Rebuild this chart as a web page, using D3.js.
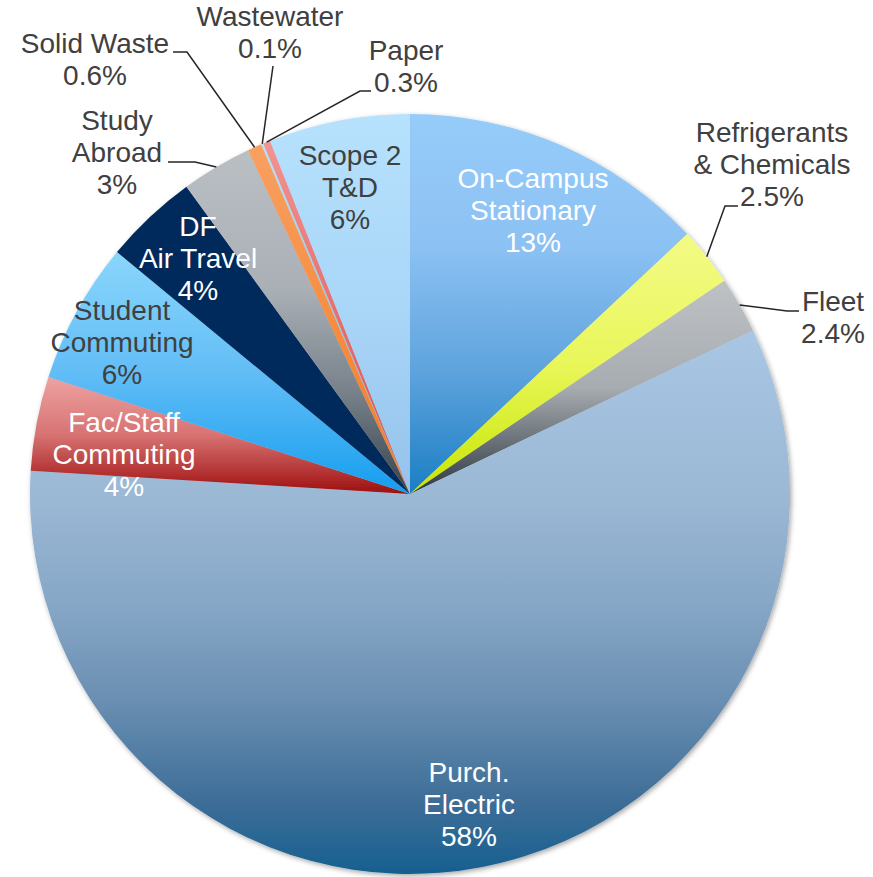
<!DOCTYPE html>
<html>
<head>
<meta charset="utf-8">
<script src="https://cdn.jsdelivr.net/npm/d3@7"></script>
<style>
  html, body { margin: 0; padding: 0; background: #ffffff; }
  svg { display: block; }
  text { font-family: "Liberation Sans", Arial, sans-serif; }
</style>
</head>
<body>
<svg id="chart" width="873" height="877"></svg>
<script>
// Emission sources, clockwise from 12 o'clock
const categories = [
  "On-Campus Stationary", "Refrigerants & Chemicals", "Fleet", "Purch. Electric",
  "Fac/Staff Commuting", "Student Commuting", "DF Air Travel", "Study Abroad",
  "Solid Waste", "Wastewater", "Paper", "Scope 2 T&D"
];
// Share of total emissions (%)
const shares = [13, 2.5, 2.4, 58, 4, 6, 4, 3, 0.6, 0.1, 0.3, 6];
// Label lines drawn for each source
const labelLines = [
  ["On-Campus", "Stationary"], ["Refrigerants", "& Chemicals"], ["Fleet"], ["Purch.", "Electric"],
  ["Fac/Staff", "Commuting"], ["Student", "Commuting"], ["DF", "Air Travel"], ["Study", "Abroad"],
  ["Solid Waste"], ["Wastewater"], ["Paper"], ["Scope 2", "T&D"]
];

// Fill gradients (top -> bottom of each slice)
const gradients = [
  [[0, "#96ccfa"], [0.35, "#8cc1f3"], [0.68, "#5ea3dd"], [1, "#1a7ec4"]],
  [[0, "#f3fb86"], [0.5, "#e9f65a"], [1, "#c6e600"]],
  [[0, "#bec2c5"], [0.5, "#a7acb1"], [1, "#2e3740"]],
  [[0, "#a9c7e4"], [0.32, "#9ab7d4"], [0.5, "#87a7c7"], [0.68, "#6a8fb2"], [0.865, "#3e6e98"], [1, "#166090"]],
  [[0, "#eea2a2"], [0.5, "#d77272"], [1, "#9e0e0e"]],
  [[0, "#8ad6fc"], [0.5, "#62bdf6"], [1, "#159eef"]],
  [[0, "#03295b"], [1, "#03295b"]],
  [[0, "#babfc4"], [0.4, "#aab0b6"], [0.7, "#78828b"], [1, "#36424d"]],
  [[0, "#f9a062"], [1, "#f47a22"]],
  [[0, "#b7e1f6"], [1, "#6ab8e0"]],
  [[0, "#f29393"], [1, "#dc4a4a"]],
  [[0, "#b6e2fd"], [0.5, "#aad6f8"], [1, "#94c2eb"]]
];
const labelColor = ["#ffffff", "#404040", "#404040", "#ffffff", "#ffffff", "#404040",
                    "#ffffff", "#404040", "#404040", "#404040", "#404040", "#404040"];

// Label anchor: centre x and baseline of first line
const labelPos = [
  [533, 188], [772, 142], [833, 311], [469, 782], [124, 432], [122, 320],
  [198, 236], [117, 130], [95, 53], [270, 26], [406, 60], [350, 165]
];
// Leader line bend and end points (null = no leader)
const leaders = [
  null, [[725, 206], [738, 206]], [[787, 311], [799, 311]], null, null, null, null,
  [[195, 162], [168, 162]], [[187, 52], [173, 52]], [[273, 66], [273, 66]], [[360, 91], [371, 91]], null
];

const width = 873, height = 877;
const cx = 410, cy = 494, radius = 380;
const fontSize = 28, lineHeight = 32;

const svg = d3.select("#chart");
const defs = svg.append("defs");

const shadow = defs.append("filter").attr("id", "pieShadow")
  .attr("x", "-10%").attr("y", "-10%").attr("width", "120%").attr("height", "120%");
shadow.append("feDropShadow")
  .attr("dx", 1.5).attr("dy", 2).attr("stdDeviation", 2.5)
  .attr("flood-color", "#000").attr("flood-opacity", 0.35);

gradients.forEach((stops, i) => {
  const g = defs.append("linearGradient").attr("id", "grad" + i)
    .attr("x1", 0).attr("y1", 0).attr("x2", 0).attr("y2", 1);
  stops.forEach(([o, c]) => g.append("stop").attr("offset", o).attr("stop-color", c));
});

const data = categories.map((c, i) => ({ name: c, value: shares[i], i }));
const pie = d3.pie().value(d => d.value).sort(null);
const arc = d3.arc().innerRadius(0).outerRadius(radius);
const arcs = pie(data);

const pieG = svg.append("g")
  .attr("transform", `translate(${cx},${cy})`)
  .attr("filter", "url(#pieShadow)");

pieG.selectAll("path.slice")
  .data(arcs)
  .join("path")
  .attr("class", "slice")
  .attr("d", arc)
  .attr("fill", d => `url(#grad${d.data.i})`);

// Leader lines from the slice edge
const leaderG = svg.append("g");
arcs.forEach(d => {
  const l = leaders[d.data.i];
  if (!l) return;
  const mid = (d.startAngle + d.endAngle) / 2;
  const sx = cx + radius * Math.sin(mid);
  const sy = cy - radius * Math.cos(mid);
  const pts = [[sx, sy], l[0], l[1]];
  leaderG.append("path")
    .attr("d", d3.line()(pts))
    .attr("fill", "none")
    .attr("stroke", "#262626")
    .attr("stroke-width", 1.5);
});

// Labels
const labelG = svg.append("g");
arcs.forEach(d => {
  const i = d.data.i;
  const lines = labelLines[i].concat([`${shares[i]}%`]);
  const [x, y] = labelPos[i];
  const t = labelG.append("text")
    .attr("text-anchor", "middle")
    .attr("font-size", fontSize)
    .attr("fill", labelColor[i]);
  lines.forEach((s, k) => {
    t.append("tspan").attr("x", x).attr("y", y + k * lineHeight).text(s);
  });
});
</script>
</body>
</html>
